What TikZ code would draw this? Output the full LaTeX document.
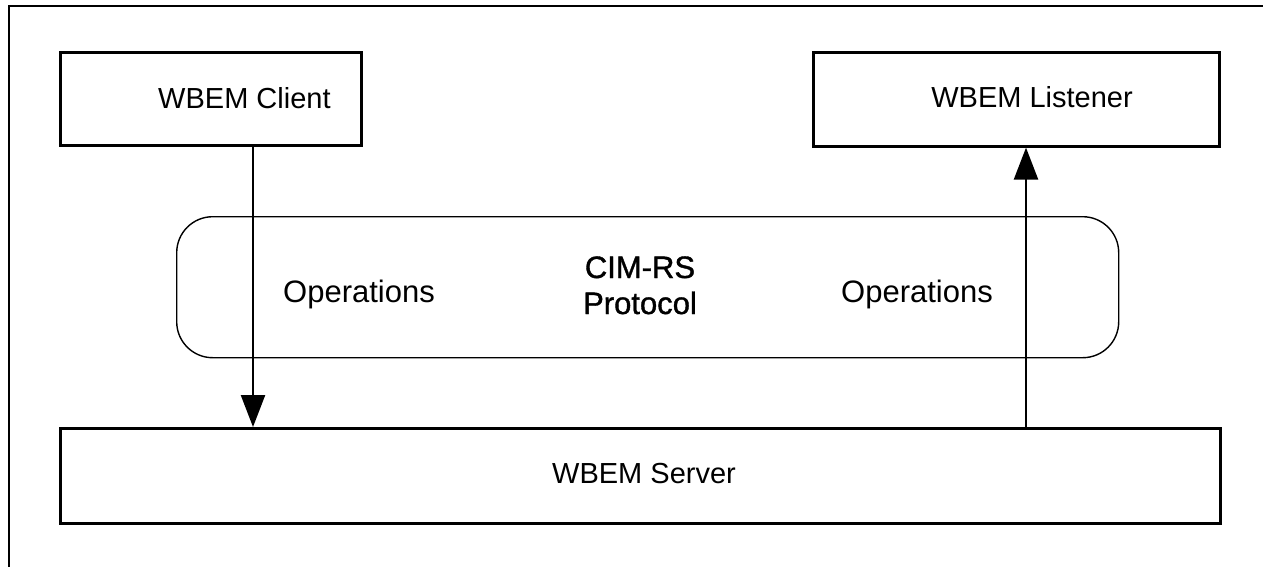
\documentclass[tikz,border=0pt]{standalone}
\usepackage{fontspec}
\setmainfont{Liberation Sans}
\newfontfamily\heavyfont[FakeBold=1.2]{Liberation Sans}
\usetikzlibrary{arrows.meta}
\begin{document}
\begin{tikzpicture}[x=1pt,y=-1pt,
  lbl/.style={font=\fontsize{31}{36}\selectfont,inner sep=0pt},
  heavylbl/.style={font=\heavyfont\fontsize{31}{36}\selectfont,inner sep=0pt},
  boxlbl/.style={font=\fontsize{29}{34}\selectfont,inner sep=0pt},
  box/.style={draw,line width=2.6pt,inner sep=0pt,anchor=north west},
  arr/.style={line width=2.4pt,-{Triangle[width=24pt,length=32pt]}}]
\useasboundingbox (0,0) rectangle (1263,566);
% outer frame (left and top edges only within view)
\draw[line width=1.8pt] (9,570) -- (9,6) -- (1270,6);
% component boxes
\node[box,minimum width=301pt,minimum height=93pt] (client) at (59,51) {};
\node[boxlbl,anchor=base west] (clientlbl) at (158,108) {WBEM Client};
\node[box,minimum width=406pt,minimum height=94pt] (listener) at (812,51) {};
\node[boxlbl,anchor=base east] (listenerlbl) at (1133,107) {WBEM Listener};
\node[box,minimum width=1160pt,minimum height=95pt] (server) at (59,427) {};
\node[boxlbl,anchor=base] (serverlbl) at (644,483) {WBEM Server};
% protocol band
\node[draw,line width=1.4pt,rounded corners=36pt,inner sep=0pt,anchor=north west,
  minimum width=942pt,minimum height=141pt] (proto) at (176,216) {};
\node[lbl,anchor=base west] (opl) at (283,302) {Operations};
\node[heavylbl,anchor=base] (cim) at (640,278) {CIM-RS};
\node[heavylbl,anchor=base] (prot) at (640,314) {Protocol};
\node[lbl,anchor=base] (opr) at (917,302) {Operations};
% request and indication flows
\coordinate (lx) at (253,0);
\coordinate (rx) at (1026,0);
\draw[arr] (client.south -| lx) -- (server.north -| lx);
\draw[arr] (server.north -| rx) -- (listener.south -| rx);
\end{tikzpicture}
\end{document}
